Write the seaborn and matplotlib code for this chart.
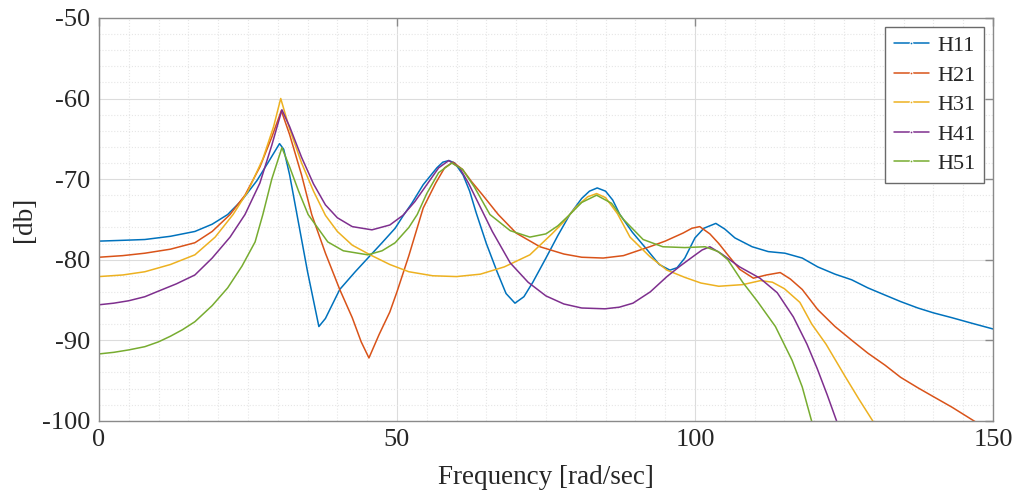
import matplotlib
matplotlib.use("Agg")
import matplotlib.pyplot as plt
from matplotlib.ticker import MultipleLocator
import numpy as np
import pandas as pd
import seaborn as sns

# values (frequency in rad/sec, magnitude in db)
h11_x = [0, 4, 7.7, 12, 16.1, 19, 21.6, 24, 26.5, 28.5,
         30.3, 31, 32, 33.5, 35, 36.9, 38, 40.4, 43, 45,
         47.5, 49.7, 51, 52.5, 54.4, 56.7, 57.7, 58.7, 59.7, 61.1,
         62.2, 63.3, 65, 66.8, 68.3, 69.8, 71.3, 72.8, 75, 77,
         79, 81, 82.3, 83.6, 85, 86.2, 87.4, 89.5, 92, 94,
         95.8, 97, 98.3, 100, 101.5, 103.5, 105, 106.7, 109.6, 112.3,
         115.1, 118, 120.6, 123.5, 126.3, 129, 131.9, 134.5, 137.4, 140,
         143.1, 146.5, 150]
h11_y = [-77.7, -77.6, -77.5, -77.1, -76.5, -75.6, -74.4, -72.6, -70.2, -67.8,
         -65.6, -66.3, -69.5, -75.5, -81.5, -88.3, -87.3, -83.7, -81.5, -79.9,
         -77.9, -76.1, -74.6, -73.0, -70.7, -68.6, -67.9, -67.7, -68.0, -69.5,
         -71.5, -74.2, -78.0, -81.5, -84.2, -85.4, -84.6, -82.8, -79.8, -77.0,
         -74.4, -72.4, -71.5, -71.1, -71.5, -72.6, -74.4, -76.6, -78.8, -80.6,
         -81.3, -81.0, -79.8, -77.3, -76.1, -75.5, -76.2, -77.3, -78.4, -79.0,
         -79.2, -79.8, -80.9, -81.8, -82.5, -83.5, -84.4, -85.2, -86.0, -86.6,
         -87.2, -87.9, -88.6]

h21_x = [0, 4, 7.7, 12, 16.1, 19, 22, 24.5, 27, 29,
         30.6, 32, 34, 35.7, 38, 40.4, 42.5, 44, 45.3, 47,
         48.8, 50, 52, 54.4, 56.5, 58, 59.4, 61, 62.5, 64.4,
         67, 70, 74, 78, 81, 84.6, 88, 92.4, 95, 98,
         99.5, 100.8, 102.5, 104, 105.5, 107.5, 109.8, 112, 114.3, 116,
         118, 120.6, 123.5, 126.3, 129, 131.9, 134.5, 137.4, 140, 143.1,
         147, 150]
h21_y = [-79.7, -79.5, -79.2, -78.7, -77.9, -76.5, -74.4, -72.0, -68.5, -64.8,
         -61.5, -64.5, -69.5, -74.4, -79.2, -83.7, -87.2, -90.2, -92.2, -89.3,
         -86.5, -84.0, -79.5, -73.6, -70.5, -68.6, -67.9, -68.8, -70.3, -72.0,
         -74.4, -76.7, -78.4, -79.3, -79.7, -79.8, -79.5, -78.4, -77.7, -76.7,
         -76.1, -75.9, -76.8, -78.0, -79.4, -81.2, -82.3, -81.9, -81.6, -82.4,
         -83.7, -86.2, -88.3, -90.0, -91.6, -93.1, -94.6, -95.9, -97.0, -98.3,
         -100.1, -101.2]

h31_x = [0, 4, 7.7, 12, 16.1, 19.5, 22.5, 25, 27.5, 29.3,
         30.5, 32, 34, 36, 38, 40, 42.5, 45.5, 48.8, 52,
         56, 60, 64, 68, 72.3, 76, 78, 80, 82, 83.5,
         85, 87, 89.1, 92.4, 95.3, 98.3, 101, 104, 108, 111,
         113, 115, 117.6, 119.6, 122, 125.2, 127.5, 129.9, 131]
h31_y = [-82.1, -81.9, -81.5, -80.6, -79.4, -77.2, -74.4, -71.5, -67.5, -63.5,
         -60.0, -63.8, -68.0, -71.5, -74.5, -76.5, -78.2, -79.4, -80.6, -81.5,
         -82.0, -82.1, -81.8, -80.9, -79.4, -76.8, -75.3, -73.5, -72.2, -71.8,
         -72.3, -74.3, -77.2, -79.6, -81.3, -82.2, -82.9, -83.3, -83.1, -82.6,
         -82.8, -83.6, -85.3, -88.0, -90.5, -94.5, -97.3, -100.1, -101.4]

h41_x = [0, 2.5, 5, 7.7, 10, 13, 16.1, 19, 22, 24.5,
         27, 29, 30.7, 32, 34, 36, 38, 40, 42.5, 45.8,
         48.8, 51, 53, 55, 57, 58.7, 60.5, 62, 64, 66,
         69, 72, 75, 78, 81, 84.9, 87.3, 89.6, 92.5, 95.3,
         97.5, 99.7, 101.2, 102.5, 104.5, 107.5, 110.9, 113.8, 116.5, 118.8,
         120.5, 122.2, 123.8, 125]
h41_y = [-85.6, -85.4, -85.1, -84.6, -83.9, -83.0, -81.9, -79.8, -77.2, -74.4,
         -70.5, -65.8, -61.4, -63.5, -67.3, -70.6, -73.2, -74.8, -75.9, -76.3,
         -75.7, -74.5, -72.8, -70.7, -68.6, -67.7, -68.6, -70.5, -73.5, -76.5,
         -80.4, -82.8, -84.5, -85.5, -86.0, -86.1, -85.9, -85.4, -84.0, -82.1,
         -80.8, -79.6, -78.8, -78.4, -79.3, -80.9, -82.3, -84.1, -87.1, -90.5,
         -93.5, -96.8, -100.1, -102.5]

h51_x = [0, 2.5, 5, 7.7, 10, 12, 14, 16.1, 19, 21.6,
         24, 26.2, 27.5, 29, 30.7, 32, 33.5, 35.1, 38.4, 41,
         45.1, 47.5, 49.7, 52, 53.4, 55, 57, 59.2, 61, 63,
         65.6, 69, 72.3, 75, 77, 79, 81, 83.5, 86, 88,
         91.3, 94.6, 98.3, 101.7, 103.9, 105.5, 108, 110.5, 113.5, 116.3,
         118, 119.6, 121]
h51_y = [-91.7, -91.5, -91.2, -90.8, -90.2, -89.5, -88.7, -87.7, -85.7, -83.5,
         -80.8, -77.8, -74.4, -70.0, -66.1, -68.5, -71.5, -74.4, -77.8, -78.9,
         -79.4, -78.9, -77.9, -76.0, -74.4, -71.8, -69.2, -68.0, -68.8, -71.0,
         -74.4, -76.4, -77.2, -76.8, -75.8, -74.4, -72.9, -72.0, -73.0, -75.0,
         -77.5, -78.4, -78.5, -78.4, -79.0, -80.0, -82.8, -85.2, -88.3, -92.5,
         -95.8, -100.1, -103.0]

labels = ["H11", "H21", "H31", "H41", "H51"]
colors = ["#0072BD", "#D95319", "#EDB120", "#7E2F8E", "#77AC30"]

series = [(h11_x, h11_y), (h21_x, h21_y), (h31_x, h31_y), (h41_x, h41_y), (h51_x, h51_y)]
frames = []
for name, (xs, ys) in zip(labels, series):
    frames.append(pd.DataFrame({"freq": xs, "db": ys, "series": name}))
df = pd.concat(frames, ignore_index=True)

sns.set_style("white")
plt.rcParams["font.family"] = ["Liberation Serif", "DejaVu Serif"]
plt.rcParams["axes.unicode_minus"] = False

fig = plt.figure(figsize=(10.2, 4.98), dpi=100)
ax = fig.add_axes([0.097, 0.155, 0.8765, 0.809])

sns.lineplot(data=df, x="freq", y="db", hue="series", hue_order=labels,
             palette=colors, estimator=None, sort=False, linewidth=1.1,
             legend=False, ax=ax)

ax.set_xlim(0, 150)
ax.set_ylim(-100, -50)
ax.xaxis.set_major_locator(MultipleLocator(50))
ax.xaxis.set_minor_locator(MultipleLocator(5))
ax.yaxis.set_major_locator(MultipleLocator(10))
ax.yaxis.set_minor_locator(MultipleLocator(2))

ax.grid(which="major", color="#dcdcdc", linewidth=0.8)
ax.grid(which="minor", color="#e6e6e6", linestyle=":", linewidth=0.8)
ax.set_axisbelow(True)

for sp in ax.spines.values():
    sp.set_color("#8a8a8a")
    sp.set_linewidth(1.0)

ax.tick_params(which="major", direction="in", length=6, width=1, color="#8a8a8a",
               top=True, right=True, labelsize=19, labelcolor="#262626", pad=6)
ax.tick_params(which="minor", length=0)

ax.set_xlabel("Frequency [rad/sec]", fontsize=19.5, color="#262626", labelpad=10)
ax.set_ylabel("[db]", fontsize=19.5, color="#262626", labelpad=4)

leg = ax.legend(ax.lines[:5], labels, loc="upper right", fontsize=16,
                frameon=True, fancybox=False, framealpha=1, edgecolor="#6a6a6a",
                handlelength=1.6, handletextpad=0.35, labelspacing=0.4,
                borderpad=0.4, borderaxespad=0.4)
leg.get_frame().set_linewidth(1.0)
for h in leg.get_lines():
    h.set_marker(".")
    h.set_markersize(4)

fig.savefig("out.png", dpi=100)
